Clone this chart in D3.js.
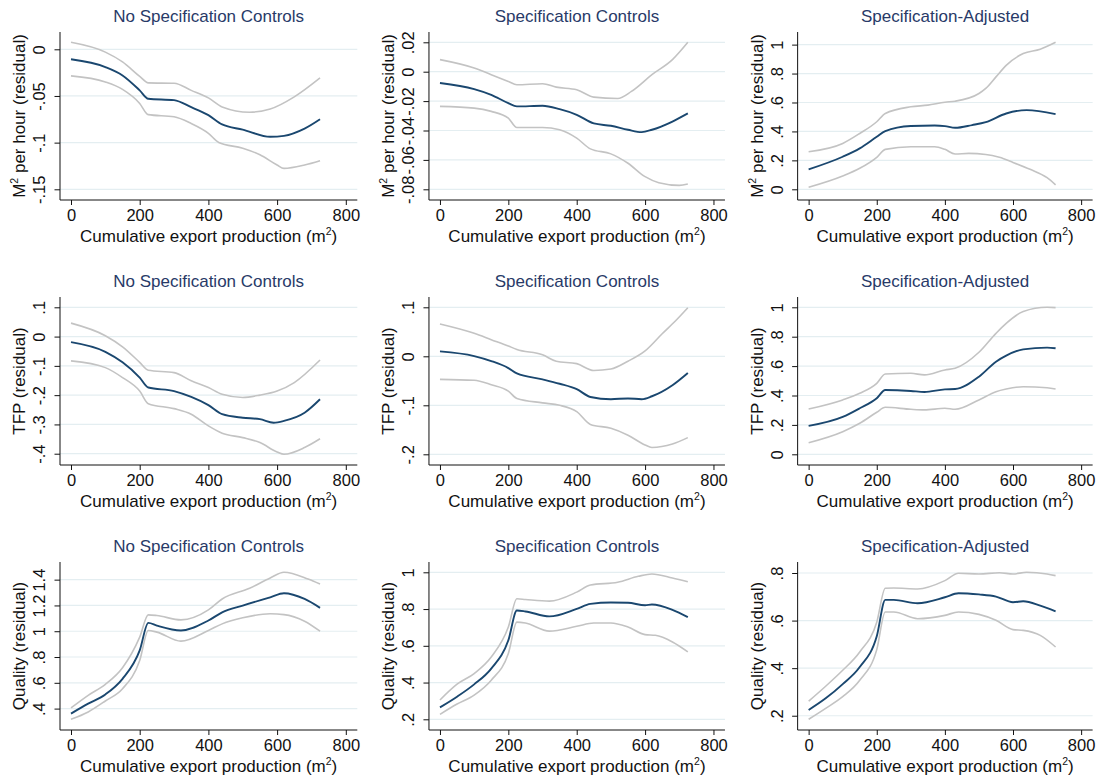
<!DOCTYPE html>
<html>
<head>
<meta charset="utf-8">
<script src="https://cdn.jsdelivr.net/npm/d3@7"></script>
<style>
  body { margin: 0; background: #fff; }
  svg { font-family: "Liberation Sans", Arial, sans-serif; }
</style>
</head>
<body>
<svg width="1103" height="782"></svg>
<script>
// --- data: [cumulative export production, residual] ---
// row 1: M2 per hour
const m2NoMid = [[0,-.0107],[100,-.019],[150,-.028],[200,-.044],[225,-.053],[300,-.0545],[350,-.062],[400,-.0706],[440,-.0805],[500,-.086],[580,-.0937],[620,-.0927],[680,-.085],[725,-.075]]
const m2NoUp  = [[0,.0075],[100,-.003],[150,-.0135],[200,-.029],[225,-.036],[300,-.0364],[350,-.044],[400,-.052],[440,-.0617],[520,-.0674],[580,-.064],[650,-.051],[725,-.0307]]
const m2NoLo  = [[0,-.0285],[100,-.035],[150,-.043],[200,-.058],[225,-.07],[300,-.0723],[350,-.0795],[400,-.09],[430,-.0998],[500,-.106],[550,-.113],[600,-.124],[620,-.1276],[680,-.124],[725,-.1194]]

const m2SpMid = [[0,-.0077],[100,-.0118],[150,-.0157],[200,-.0214],[225,-.0236],[300,-.0232],[350,-.0255],[400,-.0293],[450,-.0352],[500,-.0368],[550,-.0395],[590,-.0411],[620,-.0395],[680,-.0339],[725,-.0284]]
const m2SpUp  = [[0,.0082],[100,.0025],[150,-.002],[200,-.0066],[225,-.0089],[300,-.0082],[340,-.0105],[400,-.0123],[450,-.0173],[520,-.0182],[560,-.0134],[620,-.002],[680,.0082],[725,.02]]
const m2SpLo  = [[0,-.0236],[100,-.0248],[150,-.027],[200,-.0316],[225,-.038],[300,-.038],[350,-.0395],[400,-.0452],[440,-.0525],[500,-.0559],[550,-.0623],[600,-.0714],[640,-.0755],[700,-.0773],[725,-.0764]]

const m2AdMid = [[0,.138],[100,.225],[150,.283],[200,.363],[225,.402],[300,.437],[370,.441],[400,.437],[430,.425],[480,.444],[520,.464],[580,.524],[640,.547],[725,.52]]
const m2AdUp  = [[0,.26],[100,.317],[150,.386],[200,.467],[225,.524],[300,.57],[350,.582],[400,.602],[430,.609],[500,.662],[520,.697],[550,.777],[580,.857],[630,.938],[680,.968],[725,1.016]]
const m2AdLo  = [[0,.014],[100,.092],[150,.145],[200,.221],[225,.276],[300,.294],[370,.294],[400,.276],[430,.244],[470,.248],[520,.241],[560,.221],[600,.186],[650,.138],[700,.08],[725,.03]]

// row 2: TFP
const tfpNoMid = [[0,-.019],[100,-.052],[150,-.088],[200,-.14],[225,-.174],[300,-.186],[350,-.206],[400,-.234],[440,-.265],[500,-.277],[550,-.282],[590,-.294],[620,-.288],[680,-.26],[725,-.214]]
const tfpNoUp  = [[0,.046],[100,.003],[150,-.035],[200,-.088],[225,-.115],[300,-.123],[350,-.151],[400,-.174],[440,-.197],[500,-.208],[550,-.2],[600,-.186],[650,-.157],[725,-.08]]
const tfpNoLo  = [[0,-.083],[100,-.106],[150,-.14],[200,-.186],[225,-.229],[300,-.246],[350,-.265],[400,-.305],[440,-.33],[500,-.345],[550,-.362],[600,-.394],[620,-.402],[680,-.379],[725,-.349]]

const tfpSpMid = [[0,.01],[100,.0005],[150,-.0097],[200,-.024],[225,-.035],[300,-.047],[350,-.056],[400,-.067],[440,-.083],[500,-.0875],[550,-.086],[590,-.0875],[620,-.0815],[680,-.059],[725,-.034]]
const tfpSpUp  = [[0,.066],[100,.047],[150,.034],[200,.021],[225,.014],[300,.003],[340,-.01],[400,-.015],[450,-.029],[500,-.026],[550,-.01],[600,.011],[650,.046],[690,.073],[725,.099]]
const tfpSpLo  = [[0,-.047],[100,-.049],[150,-.058],[200,-.071],[225,-.086],[300,-.095],[350,-.1],[400,-.113],[440,-.139],[500,-.147],[550,-.161],[600,-.181],[620,-.186],[680,-.179],[725,-.166]]

const tfpAdMid = [[0,.193],[100,.254],[150,.313],[200,.381],[225,.437],[300,.431],[340,.424],[400,.442],[430,.444],[500,.528],[550,.63],[580,.671],[630,.714],[700,.726],[725,.721]]
const tfpAdUp  = [[0,.308],[100,.37],[150,.415],[200,.483],[225,.546],[300,.551],[340,.54],[400,.574],[430,.585],[500,.694],[550,.823],[580,.891],[630,.971],[700,1.0],[725,.998]]
const tfpAdLo  = [[0,.079],[100,.154],[150,.211],[200,.286],[225,.32],[300,.306],[340,.302],[400,.313],[430,.306],[500,.37],[550,.426],[580,.444],[630,.46],[700,.453],[725,.444]]

// row 3: Quality
const qNoMid = [[0,.361],[50,.438],[100,.51],[150,.631],[200,.851],[225,1.065],[250,1.044],[320,1.006],[400,1.083],[440,1.147],[500,1.199],[580,1.263],[620,1.294],[680,1.25],[725,1.181]]
const qNoUp  = [[0,.405],[50,.503],[100,.588],[150,.717],[200,.954],[225,1.127],[250,1.122],[320,1.088],[400,1.165],[440,1.25],[520,1.333],[580,1.413],[620,1.457],[690,1.405],[725,1.366]]
const qNoLo  = [[0,.317],[50,.374],[100,.459],[150,.554],[200,.773],[225,1.006],[250,.993],[320,.923],[400,1.006],[440,1.057],[500,1.104],[580,1.135],[620,1.129],[680,1.078],[725,1.0]]

const qSpMid = [[0,.265],[50,.323],[100,.39],[150,.476],[200,.63],[225,.792],[250,.787],[320,.76],[400,.801],[440,.828],[500,.836],[550,.834],[600,.821],[620,.825],[680,.796],[725,.756]]
const qSpUp  = [[0,.305],[50,.391],[100,.449],[150,.539],[200,.702],[225,.856],[250,.852],[320,.843],[400,.892],[440,.931],[520,.946],[580,.978],[620,.991],[680,.969],[725,.949]]
const qSpLo  = [[0,.227],[50,.283],[100,.332],[150,.413],[200,.558],[225,.729],[250,.724],[320,.68],[400,.706],[450,.724],[500,.724],[550,.702],[600,.661],[630,.657],[680,.621],[725,.567]]

const qAdMid = [[0,.224],[50,.273],[100,.333],[150,.405],[200,.534],[225,.687],[250,.687],[320,.673],[400,.698],[440,.715],[500,.71],[550,.701],[600,.677],[630,.681],[680,.663],[725,.639]]
const qAdUp  = [[0,.261],[50,.324],[100,.391],[150,.468],[200,.593],[225,.736],[250,.737],[320,.733],[400,.768],[440,.799],[500,.796],[560,.801],[600,.796],[640,.803],[700,.796],[725,.789]]
const qAdLo  = [[0,.185],[50,.231],[100,.28],[150,.349],[200,.478],[225,.636],[250,.636],[320,.608],[400,.622],[440,.636],[500,.626],[550,.601],[600,.562],[630,.559],[680,.538],[725,.489]]

// --- axis ticks and titles ---
const xTicks = [0, 200, 400, 600, 800]
const colTitles = ["No Specification Controls", "Specification Controls", "Specification-Adjusted"]
const rowTitles = [["M", "2", " per hour (residual)"], ["TFP (residual)"], ["Quality (residual)"]]
const yTicks = [
  [[0, -.05, -.1, -.15], [-.08, -.06, -.04, -.02, 0, .02], [0, .2, .4, .6, .8, 1]],
  [[-.4, -.3, -.2, -.1, 0, .1], [-.2, -.1, 0, .1], [0, .2, .4, .6, .8, 1]],
  [[.4, .6, .8, 1, 1.2, 1.4], [.2, .4, .6, .8, 1], [.2, .4, .6, .8]]
]
const panels = [
  [[m2NoMid, m2NoUp, m2NoLo], [m2SpMid, m2SpUp, m2SpLo], [m2AdMid, m2AdUp, m2AdLo]],
  [[tfpNoMid, tfpNoUp, tfpNoLo], [tfpSpMid, tfpSpUp, tfpSpLo], [tfpAdMid, tfpAdUp, tfpAdLo]],
  [[qNoMid, qNoUp, qNoLo], [qSpMid, qSpUp, qSpLo], [qAdMid, qAdUp, qAdLo]]
]

const colW = 1103 / 3, rowH = 265
const leftPad = [60, 61.3, 62.3]
const fmt = v => String(+v.toFixed(3)).replace(/^(-?)0\./, "$1.")

const svg = d3.select("svg")

panels.forEach((row, r) => {
  row.forEach((lines, c) => {
    const ox = c * colW, oy = r * rowH
    const left = ox + leftPad[c], right = ox + 357.3
    const top = oy + 32, bottom = oy + 200

    const allY = lines.flat().map(d => d[1]).concat(yTicks[r][c])
    const x = d3.scaleLinear().domain([0, 800]).range([left + 11, right - 11.5])
    const y = d3.scaleLinear().domain(d3.extent(allY)).range([oy + 189.3, oy + 42.3])

    const g = svg.append("g")

    // gridlines
    g.selectAll(".grid").data(yTicks[r][c]).enter().append("line")
      .attr("x1", left).attr("x2", right)
      .attr("y1", d => y(d)).attr("y2", d => y(d))
      .attr("stroke", "#e4eef1").attr("stroke-width", 1.2)

    // x axis
    const xa = g.append("g").attr("transform", `translate(0,${bottom})`)
      .call(d3.axisBottom(x).tickValues(xTicks).tickSize(5).tickSizeOuter(0).tickPadding(4))
    xa.select(".domain").attr("d", `M${left},0H${right}`).attr("stroke", "#111")
    xa.selectAll(".tick line").attr("stroke", "#111")
    xa.selectAll(".tick text").attr("font-size", 16.5).attr("fill", "#111")
      .attr("font-family", "Liberation Sans, Arial, sans-serif")

    // y axis
    const ya = g.append("g").attr("transform", `translate(${left},0)`)
      .call(d3.axisLeft(y).tickValues(yTicks[r][c]).tickSize(5.5).tickSizeOuter(0).tickFormat(fmt))
    ya.select(".domain").attr("d", `M0,${top}V${bottom}`).attr("stroke", "#111")
    ya.selectAll(".tick line").attr("stroke", "#111")
    ya.selectAll(".tick text")
      .attr("x", null).attr("dy", null)
      .attr("transform", "translate(-15,0) rotate(-90)")
      .attr("text-anchor", "middle")
      .attr("font-size", 16.5).attr("fill", "#111")
      .attr("font-family", "Liberation Sans, Arial, sans-serif")

    // curves: confidence bands first, fit on top
    const line = d3.line().x(d => x(d[0])).y(d => y(d[1])).curve(d3.curveMonotoneX)
    ;[lines[1], lines[2]].forEach(ci => {
      g.append("path").attr("d", line(ci)).attr("fill", "none")
        .attr("stroke", "#c3c3c3").attr("stroke-width", 1.6)
    })
    g.append("path").attr("d", line(lines[0])).attr("fill", "none")
      .attr("stroke", "#1a476f").attr("stroke-width", 1.9)

    // panel title
    g.append("text").attr("x", (left + right) / 2).attr("y", oy + 22)
      .attr("text-anchor", "middle").attr("font-size", 17).attr("fill", "#283a68")
      .text(colTitles[c])

    // x title
    const xt = g.append("text").attr("x", (left + right) / 2).attr("y", oy + 242)
      .attr("text-anchor", "middle").attr("font-size", 17).attr("fill", "#111")
    xt.append("tspan").text("Cumulative export production (m")
    xt.append("tspan").attr("font-size", 10.5).attr("dy", -7).text("2")
    xt.append("tspan").attr("dy", 7).text(")")

    // y title
    const yt = g.append("text")
      .attr("transform", `translate(${left - 35},${(top + bottom) / 2}) rotate(-90)`)
      .attr("text-anchor", "middle").attr("font-size", 17).attr("fill", "#111")
    const parts = rowTitles[r]
    if (parts.length === 3) {
      yt.append("tspan").text(parts[0])
      yt.append("tspan").attr("font-size", 10.5).attr("dy", -7).text(parts[1])
      yt.append("tspan").attr("dy", 7).text(parts[2])
    } else {
      yt.text(parts[0])
    }
  })
})
</script>
</body>
</html>
